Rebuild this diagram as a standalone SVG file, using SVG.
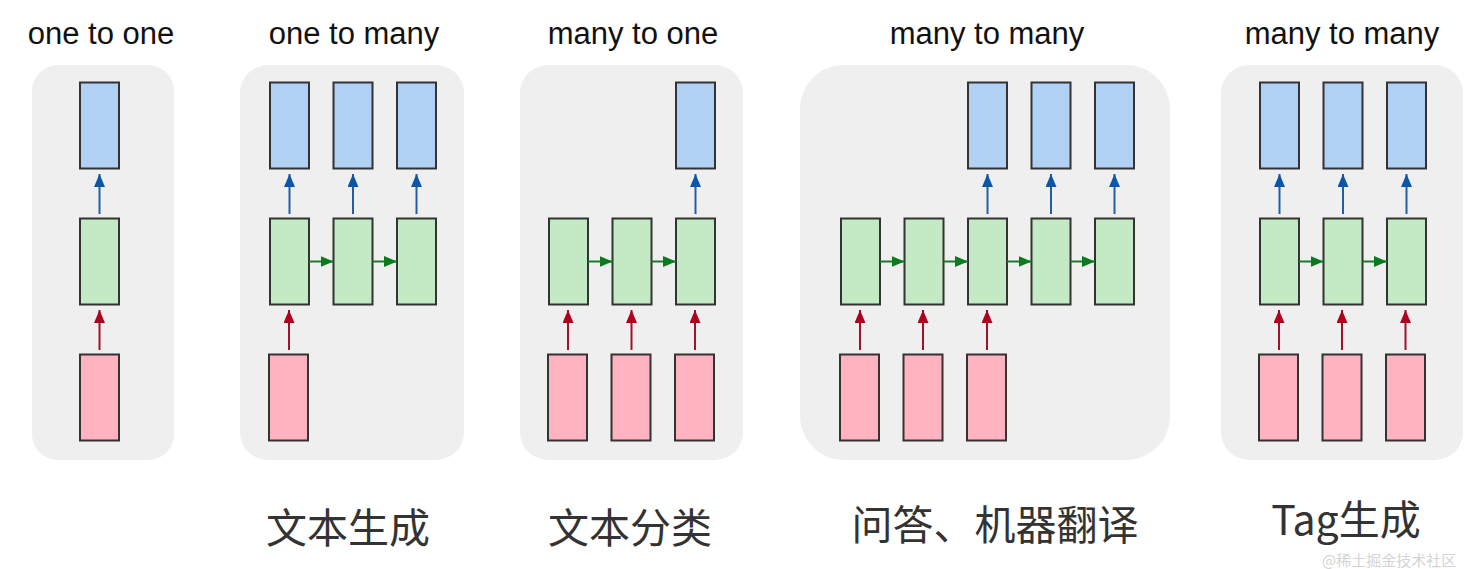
<svg xmlns="http://www.w3.org/2000/svg" width="1481" height="569" viewBox="0 0 1481 569">
<style>
.panel{fill:#efefef}
.b{fill:#b0d0f4;stroke:#333;stroke-width:2}
.g{fill:#c3e9c5;stroke:#333;stroke-width:2}
.r{fill:#ffb2bf;stroke:#333;stroke-width:2}
.t{font-family:"Liberation Sans",Arial,sans-serif;font-size:31px;fill:#111;text-anchor:middle}
.c{font-family:"Noto Sans CJK SC","Liberation Sans",sans-serif;font-size:41px;fill:#333;text-anchor:middle}
.w{font-family:"Noto Sans CJK SC",sans-serif;font-size:15px;fill:#d4d4d4}
.ab{stroke:#1f5fa8;stroke-width:2;fill:none}
.ar{stroke:#a3102a;stroke-width:2;fill:none}
.ag{stroke:#1a7a2a;stroke-width:2;fill:none}
</style>
<defs>
<marker id="mb" markerUnits="userSpaceOnUse" markerWidth="13" markerHeight="11" refX="13" refY="5.5" orient="auto"><path d="M0,0 L13,5.5 L0,11 z" fill="#0b56a8"/></marker>
<marker id="mr" markerUnits="userSpaceOnUse" markerWidth="13" markerHeight="11" refX="13" refY="5.5" orient="auto"><path d="M0,0 L13,5.5 L0,11 z" fill="#b0001e"/></marker>
<marker id="mg" markerUnits="userSpaceOnUse" markerWidth="13" markerHeight="11" refX="13" refY="5.5" orient="auto"><path d="M0,0 L13,5.5 L0,11 z" fill="#0b7a1e"/></marker>
</defs>
<rect width="1481" height="569" fill="#fff"/>
<g id="titles">
<text class="t" x="101" y="44">one to one</text>
<text class="t" x="354" y="44">one to many</text>
<text class="t" x="633" y="44">many to one</text>
<text class="t" x="987" y="44">many to many</text>
<text class="t" x="1342" y="44">many to many</text>
</g>
<g id="panel1">
<rect class="panel" x="32" y="65" width="142" height="395" rx="26"/>
<rect class="b" x="80" y="82.5" width="39" height="86"/>
<rect class="g" x="80" y="218.5" width="39" height="86"/>
<rect class="r" x="80" y="354.5" width="39" height="86"/>
</g>
<g id="panel2">
<rect class="panel" x="240" y="65" width="224" height="395" rx="28"/>
<rect class="b" x="270" y="82.5" width="39" height="86"/>
<rect class="b" x="333.5" y="82.5" width="39" height="86"/>
<rect class="b" x="397" y="82.5" width="39" height="86"/>
<rect class="g" x="270" y="218.5" width="39" height="86"/>
<rect class="g" x="333.5" y="218.5" width="39" height="86"/>
<rect class="g" x="397" y="218.5" width="39" height="86"/>
<rect class="r" x="269" y="354.5" width="39" height="86"/>
</g>
<g id="panel3">
<rect class="panel" x="520" y="65" width="223" height="395" rx="28"/>
<rect class="b" x="676" y="82.5" width="39" height="86"/>
<rect class="g" x="549" y="218.5" width="39" height="86"/>
<rect class="g" x="612.5" y="218.5" width="39" height="86"/>
<rect class="g" x="676" y="218.5" width="39" height="86"/>
<rect class="r" x="548" y="354.5" width="39" height="86"/>
<rect class="r" x="611.5" y="354.5" width="39" height="86"/>
<rect class="r" x="675" y="354.5" width="39" height="86"/>
</g>
<g id="panel4">
<rect class="panel" x="800" y="65" width="370" height="395" rx="44"/>
<rect class="b" x="968" y="82.5" width="39" height="86"/>
<rect class="b" x="1031.5" y="82.5" width="39" height="86"/>
<rect class="b" x="1095" y="82.5" width="39" height="86"/>
<rect class="g" x="841" y="218.5" width="39" height="86"/>
<rect class="g" x="904.5" y="218.5" width="39" height="86"/>
<rect class="g" x="968" y="218.5" width="39" height="86"/>
<rect class="g" x="1031.5" y="218.5" width="39" height="86"/>
<rect class="g" x="1095" y="218.5" width="39" height="86"/>
<rect class="r" x="840" y="354.5" width="39" height="86"/>
<rect class="r" x="903.5" y="354.5" width="39" height="86"/>
<rect class="r" x="967" y="354.5" width="39" height="86"/>
</g>
<g id="panel5">
<rect class="panel" x="1221" y="65" width="242" height="395" rx="28"/>
<rect class="b" x="1260" y="82.5" width="39" height="86"/>
<rect class="b" x="1323.5" y="82.5" width="39" height="86"/>
<rect class="b" x="1387" y="82.5" width="39" height="86"/>
<rect class="g" x="1260" y="218.5" width="39" height="86"/>
<rect class="g" x="1323.5" y="218.5" width="39" height="86"/>
<rect class="g" x="1387" y="218.5" width="39" height="86"/>
<rect class="r" x="1259" y="354.5" width="39" height="86"/>
<rect class="r" x="1322.5" y="354.5" width="39" height="86"/>
<rect class="r" x="1386" y="354.5" width="39" height="86"/>
</g>
<g id="connectors">
<line class="ab" x1="99.5" y1="214" x2="99.5" y2="174" marker-end="url(#mb)"/>
<line class="ar" x1="99.5" y1="350" x2="99.5" y2="310" marker-end="url(#mr)"/>
<line class="ab" x1="289.5" y1="214" x2="289.5" y2="174" marker-end="url(#mb)"/>
<line class="ab" x1="353" y1="214" x2="353" y2="174" marker-end="url(#mb)"/>
<line class="ab" x1="416.5" y1="214" x2="416.5" y2="174" marker-end="url(#mb)"/>
<line class="ag" x1="309" y1="261.5" x2="333.5" y2="261.5" marker-end="url(#mg)"/>
<line class="ag" x1="372.5" y1="261.5" x2="397" y2="261.5" marker-end="url(#mg)"/>
<line class="ar" x1="289" y1="350" x2="289" y2="310" marker-end="url(#mr)"/>
<line class="ab" x1="695.5" y1="214" x2="695.5" y2="174" marker-end="url(#mb)"/>
<line class="ag" x1="588" y1="261.5" x2="612.5" y2="261.5" marker-end="url(#mg)"/>
<line class="ag" x1="651.5" y1="261.5" x2="676" y2="261.5" marker-end="url(#mg)"/>
<line class="ar" x1="568" y1="350" x2="568" y2="310" marker-end="url(#mr)"/>
<line class="ar" x1="631.5" y1="350" x2="631.5" y2="310" marker-end="url(#mr)"/>
<line class="ar" x1="695" y1="350" x2="695" y2="310" marker-end="url(#mr)"/>
<line class="ab" x1="987.5" y1="214" x2="987.5" y2="174" marker-end="url(#mb)"/>
<line class="ab" x1="1051" y1="214" x2="1051" y2="174" marker-end="url(#mb)"/>
<line class="ab" x1="1114.5" y1="214" x2="1114.5" y2="174" marker-end="url(#mb)"/>
<line class="ag" x1="880" y1="261.5" x2="904.5" y2="261.5" marker-end="url(#mg)"/>
<line class="ag" x1="943.5" y1="261.5" x2="968" y2="261.5" marker-end="url(#mg)"/>
<line class="ag" x1="1007" y1="261.5" x2="1031.5" y2="261.5" marker-end="url(#mg)"/>
<line class="ag" x1="1070.5" y1="261.5" x2="1095" y2="261.5" marker-end="url(#mg)"/>
<line class="ar" x1="860" y1="350" x2="860" y2="310" marker-end="url(#mr)"/>
<line class="ar" x1="923" y1="350" x2="923" y2="310" marker-end="url(#mr)"/>
<line class="ar" x1="987" y1="350" x2="987" y2="310" marker-end="url(#mr)"/>
<line class="ab" x1="1279.5" y1="214" x2="1279.5" y2="174" marker-end="url(#mb)"/>
<line class="ab" x1="1343" y1="214" x2="1343" y2="174" marker-end="url(#mb)"/>
<line class="ab" x1="1406.5" y1="214" x2="1406.5" y2="174" marker-end="url(#mb)"/>
<line class="ag" x1="1299" y1="261.5" x2="1323.5" y2="261.5" marker-end="url(#mg)"/>
<line class="ag" x1="1362.5" y1="261.5" x2="1387" y2="261.5" marker-end="url(#mg)"/>
<line class="ar" x1="1279" y1="350" x2="1279" y2="310" marker-end="url(#mr)"/>
<line class="ar" x1="1342" y1="350" x2="1342" y2="310" marker-end="url(#mr)"/>
<line class="ar" x1="1405.5" y1="350" x2="1405.5" y2="310" marker-end="url(#mr)"/>
</g>
<g id="labels">
<text class="c" x="348" y="543">文本生成</text>
<text class="c" x="630" y="543">文本分类</text>
<text class="c" x="995" y="540">问答、机器翻译</text>
<text class="c" x="1346" y="535">Tag生成</text>
<text class="w" x="1322" y="566">@稀土掘金技术社区</text>
</g>
</svg>
